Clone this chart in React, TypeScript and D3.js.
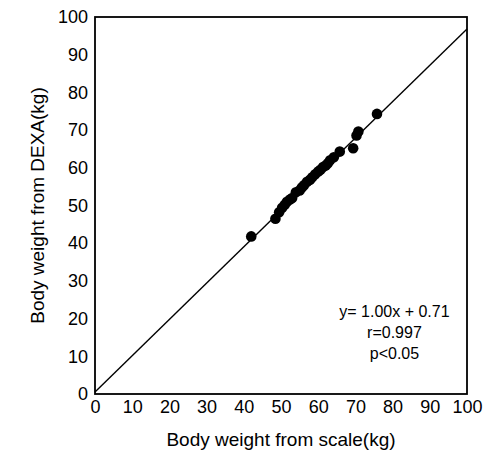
import React, { useEffect, useRef } from 'react';
import * as d3 from 'd3';

// scatter values (kg)
const scaleWeight = [42, 48.5, 49.5, 50.3, 51, 51.6, 52.4, 53, 54, 55, 55.6, 56.2, 57, 57.8, 58.4, 59.2, 60, 60.6, 61.3, 62, 62.6, 63.2, 64.2, 65.8, 69.4, 70.3, 70.8, 75.8];
const dexaWeight = [41.8, 46.5, 48.2, 49.4, 50.2, 51, 51.6, 52, 53.5, 54, 54.8, 55.4, 56.3, 56.8, 57.5, 58.3, 59, 59.5, 60.2, 60.6, 61.2, 62, 62.8, 64.3, 65.2, 68.6, 69.6, 74.3];

const ticks = [0, 10, 20, 30, 40, 50, 60, 70, 80, 90, 100];

// fitted line as drawn
const lineX = [0, 100];
const lineY = [0.5, 96.8];

const statLines = ['y= 1.00x + 0.71', 'r=0.997', 'p<0.05'];

const W = 489;
const H = 463;
const FONT = '"Liberation Sans", Arial, Helvetica, sans-serif';

export default function App() {
  const svgRef = useRef<SVGSVGElement>(null);

  useEffect(() => {
    if (!svgRef.current) return;
    const svg = d3.select(svgRef.current);
    svg.selectAll('*').remove();

    const margin = { top: 17, right: 22, bottom: 69, left: 95 };
    const innerW = W - margin.left - margin.right;
    const innerH = H - margin.top - margin.bottom;

    const x = d3.scaleLinear().domain([0, 100]).range([0, innerW]);
    const y = d3.scaleLinear().domain([0, 100]).range([innerH, 0]);

    const g = svg.append('g').attr('transform', `translate(${margin.left},${margin.top})`);

    // frame
    g.append('rect')
      .attr('x', 0)
      .attr('y', 0)
      .attr('width', innerW)
      .attr('height', innerH)
      .attr('fill', 'none')
      .attr('stroke', '#000')
      .attr('stroke-width', 1.8);

    // axes, labels only
    const xAxis = g.append('g')
      .attr('transform', `translate(0,${innerH})`)
      .call(d3.axisBottom(x).tickValues(ticks).tickSize(0).tickPadding(6));
    xAxis.select('.domain').remove();
    xAxis.selectAll('text')
      .attr('fill', '#000')
      .style('font-family', FONT)
      .style('font-size', '18px');

    const yAxis = g.append('g')
      .call(d3.axisLeft(y).tickValues(ticks).tickSize(0).tickPadding(7));
    yAxis.select('.domain').remove();
    yAxis.selectAll('text')
      .attr('fill', '#000')
      .style('font-family', FONT)
      .style('font-size', '18px');

    // fit line
    const line = d3.line<number>()
      .x((d) => x(d))
      .y((_, i) => y(lineY[i]));
    g.append('path')
      .datum(lineX)
      .attr('d', line)
      .attr('fill', 'none')
      .attr('stroke', '#000')
      .attr('stroke-width', 1.4);

    // points
    g.selectAll('circle')
      .data(scaleWeight)
      .enter()
      .append('circle')
      .attr('cx', (d) => x(d))
      .attr('cy', (_, i) => y(dexaWeight[i]))
      .attr('r', 5.3)
      .attr('fill', '#000');

    // stats text
    g.append('g')
      .selectAll('text')
      .data(statLines)
      .enter()
      .append('text')
      .attr('x', x(80.5))
      .attr('y', (_, i) => y(20.5) + i * 21)
      .attr('text-anchor', 'middle')
      .style('font-family', FONT)
      .style('font-size', '16px')
      .attr('fill', '#000')
      .text((d) => d);

    // axis titles
    svg.append('text')
      .attr('x', margin.left + innerW / 2)
      .attr('y', 446)
      .attr('text-anchor', 'middle')
      .style('font-family', FONT)
      .style('font-size', '19px')
      .attr('fill', '#000')
      .text('Body weight from scale(kg)');

    svg.append('text')
      .attr('transform', `translate(44,${margin.top + innerH / 2}) rotate(-90)`)
      .attr('text-anchor', 'middle')
      .style('font-family', FONT)
      .style('font-size', '19px')
      .attr('fill', '#000')
      .text('Body weight from DEXA(kg)');
  }, []);

  return (
    <svg
      ref={svgRef}
      width={W}
      height={H}
      style={{ position: 'absolute', left: 0, top: 0, background: '#fff' }}
    />
  );
}
